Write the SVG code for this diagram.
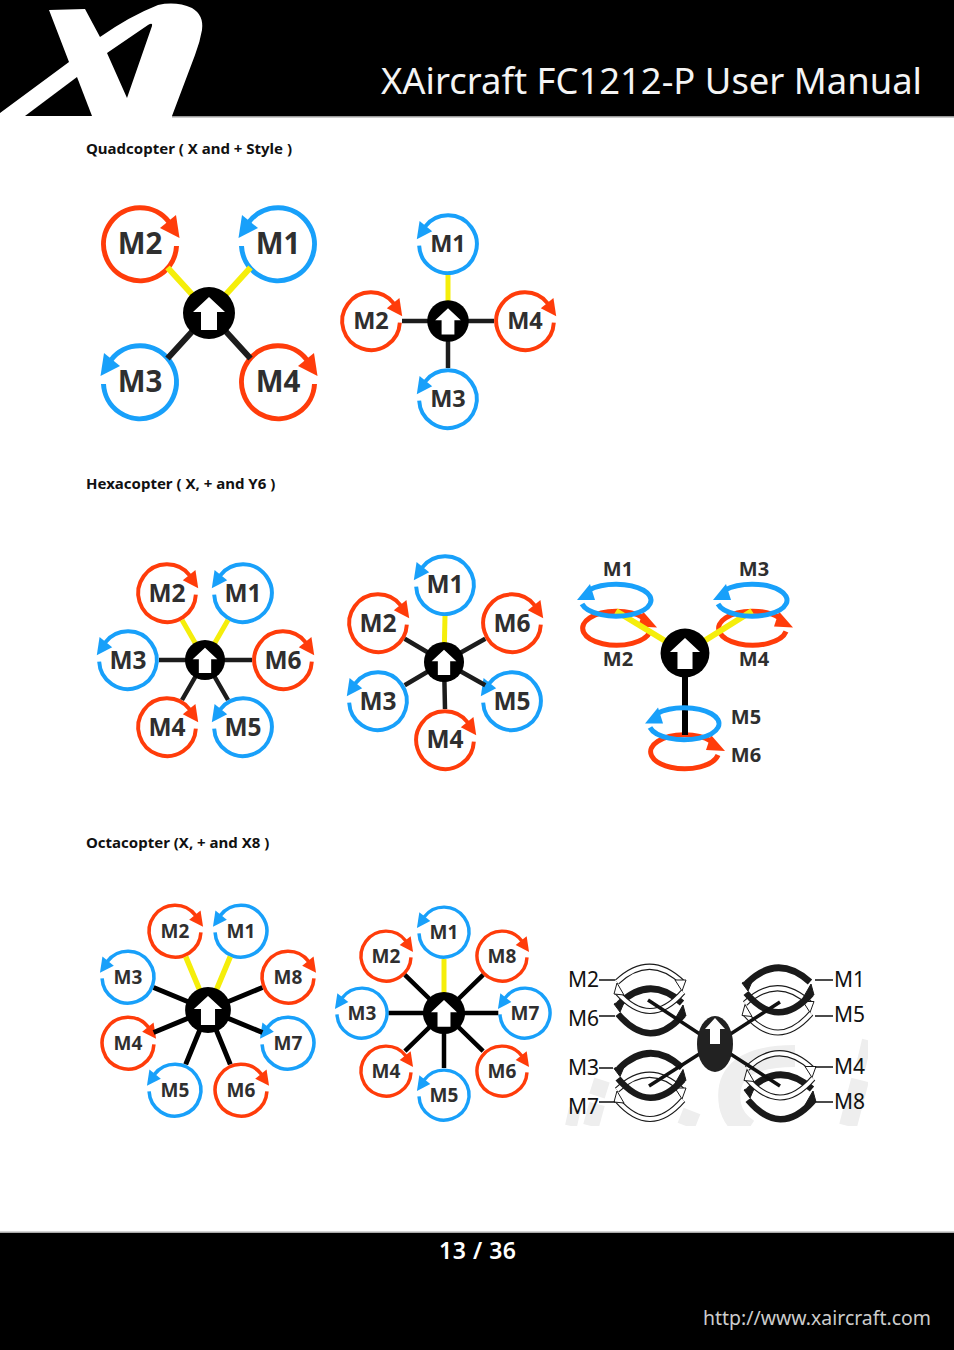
<svg xmlns="http://www.w3.org/2000/svg" width="954" height="1350" viewBox="0 0 954 1350">
<style>
text{font-family:"Noto Sans","Open Sans","Liberation Sans",sans-serif}
.h{font-size:15px;font-weight:700;fill:#111}
.l{font-weight:700;fill:#2f2f2f;text-anchor:middle}
.l29{font-size:29.500px}.l23{font-size:23.500px}.l24{font-size:24.500px}.l19{font-size:19px}.l20{font-size:20px}
.x{font-size:21px;fill:#111}
.red{fill:#ff3c0a;stroke:#ff3c0a}
.blue{fill:#18a0fa;stroke:#18a0fa}
.ring{fill:none;stroke-width:5}
.head{stroke:none}
.y{stroke:#f5ee0a;stroke-width:6;fill:none}
.k{stroke:#1c1c1c;stroke-width:6;fill:none}
.arcb{fill:none;stroke:#1a1a1a;stroke-width:6.500}
.arc{fill:none;stroke:#1a1a1a;stroke-width:6}
.arcw{fill:none;stroke:#fff;stroke-width:3.800}
.hd{fill:#1a1a1a;stroke:#1a1a1a;stroke-width:1}
.hw{fill:#fff;stroke:#1a1a1a;stroke-width:1}
.lead{stroke:#111;stroke-width:1.600;fill:none}
.wm{fill:none;stroke:#eeeeee}
</style>
<defs>
<g id="cw"><path class="ring" d="M36.500 2A36.500 36.500 0 1 1 29 -22"/><polygon class="head" points="36,-29 20,-16 39.500,-6"/></g>
<g id="ccw"><path class="ring" d="M-36.500 2A36.500 36.500 0 1 0 -29 -22"/><polygon class="head" points="-36,-29 -20,-16 -39.500,-6"/></g>
<g id="yccw"><path class="ring" d="M-34 4A35 16 0 1 0 -27 -10"/><polygon class="head" points="-39,0 -26,-16 -21,0"/></g>
<g id="ycw"><path class="ring" d="M34 4A34 17 0 1 1 27 -10"/><polygon class="head" points="41,0 27,-16 22,-1"/></g>
<g id="hub"><circle r="26" fill="#000"/><polygon points="0,-16 16,-1 8,-1 8,17 -8,17 -8,-1 -16,-1" fill="#fff"/></g>
<g id="xb">
<path class="arcb" d="M-31 -7Q0 -37 32 -8"/><polygon class="hd" points="-36,-7 -24,-13 -30,1"/>
<path class="arcb" d="M-32 3Q0 41 33 4"/><polygon class="hd" points="36,5 25,8 33,-6"/>
</g>
<g id="xw">
<path class="arc" d="M-33 -7Q0 -38 33 -6"/><path class="arcw" d="M-33 -7Q0 -38 33 -6"/><polygon class="hw" points="36,-9 25,-9 32,2"/>
<path class="arc" d="M-33 3Q0 41 33 3"/><path class="arcw" d="M-33 3Q0 41 33 3"/><polygon class="hw" points="-36,5 -26,6 -33,-6"/>
</g>
<clipPath id="wmclip"><rect x="562" y="1030" width="306" height="96"/></clipPath>
</defs>
<rect width="954" height="1350" fill="#fff"/>

<g id="header">
<rect width="954" height="116" fill="#000"/>
<rect y="116" width="954" height="1.500" fill="#999"/>
<path fill="#fff" fill-rule="evenodd" d="M49 10L85 9L100 37Q130 16 158 5Q176 1 192 8Q204 15 202 30Q200 42 195 55L172 116V126H0V113L69 62ZM107 53L127 98L152 26Q153 22 148 25Z"/>
<path fill="#000" d="M77 77L92 116H25Z"/>
<text x="381" y="94" font-size="37" fill="#f4f4f4" textLength="541" lengthAdjust="spacingAndGlyphs">XAircraft FC1212-P User Manual</text>
</g>

<g id="footer">
<rect y="1231.500" width="954" height="1.500" fill="#aaa"/>
<rect y="1233" width="954" height="117" fill="#000"/>
<text x="439" y="1259" font-size="23" font-weight="600" fill="#fff" textLength="77">13 / 36</text>
<text x="703" y="1325" font-size="20" fill="#ccc" textLength="228" lengthAdjust="spacingAndGlyphs">http://www.xaircraft.com</text>
</g>

<text class="h" x="86" y="154">Quadcopter ( X and + Style )</text>
<text class="h" x="86" y="489">Hexacopter ( X, + and Y6 )</text>
<text class="h" x="86" y="848">Octacopter (X, + and X8 )</text>

<g id="watermark" clip-path="url(#wmclip)">
<path class="wm" stroke-width="12" d="M571 1126L575 1108"/>
<path class="wm" stroke-width="16" d="M591 1126L597 1104"/>
<path class="wm" stroke-width="16" d="M597 1096L602 1080"/>
<path class="wm" stroke-width="18" d="M686 1126L692 1111"/>
<path class="wm" stroke-width="22" d="M795 1056Q722 1056 730 1105Q733 1120 748 1130"/>
<path class="wm" stroke-width="18" d="M848 1126L860 1080"/>
<path class="wm" stroke-width="10" d="M860 1070L867 1040"/>
</g>

<g id="quad-x">
<g id="qx-m2"><use href="#cw" class="red" transform="translate(140 244)"/><text class="l l29" x="140" y="254">M2</text></g>
<g id="qx-m1"><use href="#ccw" class="blue" transform="translate(278 244)"/><text class="l l29" x="278" y="254">M1</text></g>
<g id="qx-m3"><use href="#ccw" class="blue" transform="translate(140 382)"/><text class="l l29" x="140" y="392">M3</text></g>
<g id="qx-m4"><use href="#cw" class="red" transform="translate(278 382)"/><text class="l l29" x="278" y="392">M4</text></g>
</g>

<g id="quad-plus">
<g id="qp-m1"><use href="#ccw" class="blue" transform="translate(448 244) scale(.79)"/><text class="l l23" x="448" y="252">M1</text></g>
<g id="qp-m2"><use href="#cw" class="red" transform="translate(371 321) scale(.79)"/><text class="l l23" x="371" y="329">M2</text></g>
<g id="qp-m4"><use href="#cw" class="red" transform="translate(525 321) scale(.79)"/><text class="l l23" x="525" y="329">M4</text></g>
<g id="qp-m3"><use href="#ccw" class="blue" transform="translate(448 399) scale(.79)"/><text class="l l23" x="448" y="407">M3</text></g>
</g>

<g id="hex-x">
<g id="hx-m2"><use href="#cw" class="red" transform="translate(167 593) scale(.79)"/><text class="l l24" x="167" y="602">M2</text></g>
<g id="hx-m1"><use href="#ccw" class="blue" transform="translate(243 593) scale(.79)"/><text class="l l24" x="243" y="602">M1</text></g>
<g id="hx-m3"><use href="#ccw" class="blue" transform="translate(128 660) scale(.79)"/><text class="l l24" x="128" y="669">M3</text></g>
<g id="hx-m6"><use href="#cw" class="red" transform="translate(283 660) scale(.79)"/><text class="l l24" x="283" y="669">M6</text></g>
<g id="hx-m4"><use href="#cw" class="red" transform="translate(167 727) scale(.79)"/><text class="l l24" x="167" y="736">M4</text></g>
<g id="hx-m5"><use href="#ccw" class="blue" transform="translate(243 727) scale(.79)"/><text class="l l24" x="243" y="736">M5</text></g>
</g>

<g id="hex-plus">
<g id="hp-m1"><use href="#ccw" class="blue" transform="translate(445 585) scale(.79)"/><text class="l l24" x="445" y="593">M1</text></g>
<g id="hp-m2"><use href="#cw" class="red" transform="translate(378 623) scale(.79)"/><text class="l l24" x="378" y="632">M2</text></g>
<g id="hp-m6"><use href="#cw" class="red" transform="translate(512 623) scale(.79)"/><text class="l l24" x="512" y="632">M6</text></g>
<g id="hp-m3"><use href="#ccw" class="blue" transform="translate(378 701) scale(.79)"/><text class="l l24" x="378" y="710">M3</text></g>
<g id="hp-m5"><use href="#ccw" class="blue" transform="translate(512 701) scale(.79)"/><text class="l l24" x="512" y="710">M5</text></g>
<g id="hp-m4"><use href="#cw" class="red" transform="translate(445 740) scale(.79)"/><text class="l l24" x="445" y="748">M4</text></g>
</g>

<g id="y6-lower">
<g id="y6-m2"><use href="#ycw" class="red" transform="translate(616 627.500)"/><text class="l l20" x="618" y="666">M2</text></g>
<g id="y6-m4"><use href="#ycw" class="red" transform="translate(752 627.500)"/><text class="l l20" x="754" y="666">M4</text></g>
<g id="y6-m6"><use href="#ycw" class="red" transform="translate(684 751)"/><text class="l l20" x="746" y="762">M6</text></g>
</g>

<g id="oct-x">
<g id="ox-m2"><use href="#cw" class="red" transform="translate(175 931) scale(.71)"/><text class="l l19" x="175" y="937.500">M2</text></g>
<g id="ox-m1"><use href="#ccw" class="blue" transform="translate(241 931) scale(.71)"/><text class="l l19" x="241" y="937.500">M1</text></g>
<g id="ox-m3"><use href="#ccw" class="blue" transform="translate(128 977) scale(.71)"/><text class="l l19" x="128" y="983.500">M3</text></g>
<g id="ox-m8"><use href="#cw" class="red" transform="translate(288 977) scale(.71)"/><text class="l l19" x="288" y="983.500">M8</text></g>
<g id="ox-m4"><use href="#cw" class="red" transform="translate(128 1043) scale(.71)"/><text class="l l19" x="128" y="1049.500">M4</text></g>
<g id="ox-m7"><use href="#ccw" class="blue" transform="translate(288 1043) scale(.71)"/><text class="l l19" x="288" y="1049.500">M7</text></g>
<g id="ox-m5"><use href="#ccw" class="blue" transform="translate(175 1090) scale(.71)"/><text class="l l19" x="175" y="1096.500">M5</text></g>
<g id="ox-m6"><use href="#cw" class="red" transform="translate(241 1090) scale(.71)"/><text class="l l19" x="241" y="1096.500">M6</text></g>
</g>

<g id="oct-plus">
<g id="op-m1"><use href="#ccw" class="blue" transform="translate(444 932) scale(.685)"/><text class="l l19" x="444" y="938.500">M1</text></g>
<g id="op-m2"><use href="#cw" class="red" transform="translate(386 956) scale(.685)"/><text class="l l19" x="386" y="962.500">M2</text></g>
<g id="op-m8"><use href="#cw" class="red" transform="translate(502 956) scale(.685)"/><text class="l l19" x="502" y="962.500">M8</text></g>
<g id="op-m3"><use href="#ccw" class="blue" transform="translate(362 1013) scale(.685)"/><text class="l l19" x="362" y="1019.500">M3</text></g>
<g id="op-m7"><use href="#ccw" class="blue" transform="translate(525 1013) scale(.685)"/><text class="l l19" x="525" y="1019.500">M7</text></g>
<g id="op-m4"><use href="#cw" class="red" transform="translate(386 1071) scale(.685)"/><text class="l l19" x="386" y="1077.500">M4</text></g>
<g id="op-m6"><use href="#cw" class="red" transform="translate(502 1071) scale(.685)"/><text class="l l19" x="502" y="1077.500">M6</text></g>
<g id="op-m5"><use href="#ccw" class="blue" transform="translate(444 1095) scale(.685)"/><text class="l l19" x="444" y="1101.500">M5</text></g>
</g>

<g id="x8">
<g id="x8-m6"><use href="#xb" transform="translate(650 1011)"/><text class="x" x="568" y="1026">M6</text></g>
<g id="x8-m2"><use href="#xw" transform="translate(650 989)"/><text class="x" x="568" y="987">M2</text></g>
<g id="x8-m5"><use href="#xw" transform="translate(778 1010.500)"/><text class="x" x="834" y="1022">M5</text></g>
<g id="x8-m1"><use href="#xb" transform="translate(778 990)"/><text class="x" x="834" y="987">M1</text></g>
<g id="x8-m7"><use href="#xw" transform="translate(650 1097)"/><text class="x" x="568" y="1114">M7</text></g>
<g id="x8-m3"><use href="#xb" transform="translate(650 1075.500)"/><text class="x" x="568" y="1075">M3</text></g>
<g id="x8-m8"><use href="#xb" transform="translate(780 1097)"/><text class="x" x="834" y="1109">M8</text></g>
<g id="x8-m4"><use href="#xw" transform="translate(780 1075.500)"/><text class="x" x="834" y="1074">M4</text></g>
</g>

<g id="connectors">
<path class="y" d="M209 313L167.500 267.500M209 313L250.500 267.500"/>
<path class="k" d="M209 313L167.500 358.500M209 313L250.500 358.500"/>
<path class="y" style="stroke-width:5" d="M448 321V275"/>
<path class="k" style="stroke-width:4.500" d="M448 321H402M448 321H494M448 321V368"/>
<path class="y" style="stroke-width:5" d="M205 660L182 620M205 660L228 620"/>
<path class="k" style="stroke-width:4.500" d="M205 660H159M205 660H252M205 660L182 700M205 660L228 700"/>
<path class="y" style="stroke-width:5" d="M444 662L445 616"/>
<path class="k" style="stroke-width:4.500" d="M444 662L404.700 638.800M444 662L485.300 638.800M444 662L404.700 685.200M444 662L485.300 685.200M444 662L445 709"/>
<path class="y" d="M685 653L616 611M685 653L752 611"/>
<path class="k" style="stroke:#000" d="M685 653V735"/>
<path class="y" style="stroke-width:5.500" d="M208 1010L185.700 956.600M208 1010L230.300 956.600"/>
<path class="k" style="stroke:#000;stroke-width:5" d="M208 1010L153.600 987.500M208 1010L262.400 987.500M208 1010L153.600 1032.500M208 1010L262.400 1032.500M208 1010L185.700 1064.400M208 1010L230.300 1064.400"/>
<path class="y" style="stroke-width:5" d="M444 1013V959"/>
<path class="k" style="stroke:#000;stroke-width:4.500" d="M444 1013L404.900 974.900M444 1013L483.100 974.900M444 1013H388.700M444 1013H498.300M444 1013L404.900 1051.100M444 1013L483.100 1051.100M444 1013V1068"/>
<path class="k" style="stroke:#111;stroke-width:3.500" d="M715 1044L648 1000M715 1044L780 1002M715 1044L649 1086M715 1044L780 1086"/>
<path class="lead" d="M599 980H615M599 1016H615M599 1068H613M599 1102H615M815 980H833M815 1016H833M815 1067H833M815 1102H833"/>
</g>

<g id="y6-upper">
<g id="y6-m1"><use href="#yccw" class="blue" transform="translate(616 600)"/><text class="l l20" x="618" y="576">M1</text></g>
<g id="y6-m3"><use href="#yccw" class="blue" transform="translate(752 600)"/><text class="l l20" x="754" y="576">M3</text></g>
<g id="y6-m5"><use href="#yccw" class="blue" transform="translate(684 723.500)"/><text class="l l20" x="746" y="724">M5</text></g>
</g>

<g id="hubs">
<use id="hub-qx" href="#hub" transform="translate(209 313)"/>
<use id="hub-qp" href="#hub" transform="translate(448 321) scale(.8)"/>
<use id="hub-hx" href="#hub" transform="translate(205 660) scale(.77)"/>
<use id="hub-hp" href="#hub" transform="translate(444 662) scale(.77)"/>
<use id="hub-y6" href="#hub" transform="translate(685 653) scale(.94)"/>
<use id="hub-ox" href="#hub" transform="translate(208 1010) scale(.88)"/>
<use id="hub-op" href="#hub" transform="translate(444 1013) scale(.81)"/>
<g id="hub-x8"><ellipse cx="715" cy="1044" rx="18" ry="28" fill="#222"/><polygon points="715,1018 725,1029 720,1029 720,1044 710,1044 710,1029 705,1029" fill="#fff"/></g>
</g>
</svg>
